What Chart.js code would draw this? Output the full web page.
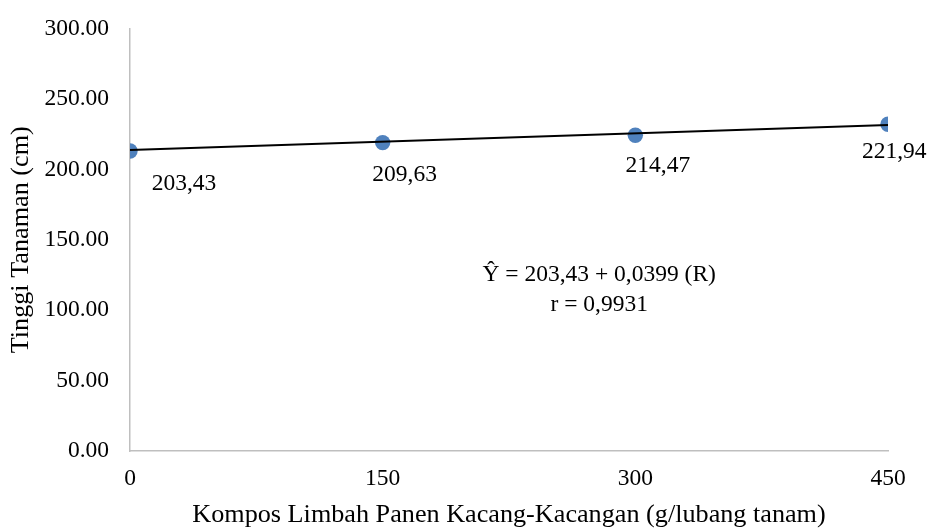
<!DOCTYPE html>
<html>
<head>
<meta charset="utf-8">
<script src="https://cdn.jsdelivr.net/npm/chart.js@4"></script>
<style>
  html, body { margin: 0; padding: 0; background: #ffffff; }
  #wrap { width: 931px; height: 528px; }
</style>
</head>
<body>
<div id="wrap"><canvas id="c" width="931" height="528"></canvas></div>
<script>
// ---- data ----
const doses = [0, 150, 300, 450];                       // Kompos (g/lubang tanam)
const heights = [213.0, 219.0, 224.2, 232.0];           // plotted heights (cm)
const pointLabels = ['203,43', '209,63', '214,47', '221,94'];
const trendX = [0, 450];
const trendY = [213.7, 231.4];                          // trendline end values
const yTicks = [0, 50, 100, 150, 200, 250, 300];
const xTicks = [0, 150, 300, 450];
const equationLines = ['\u0176 = 203,43 + 0,0399 (R)', 'r = 0,9931'];
const yTitle = 'Tinggi Tanaman (cm)';
const xTitle = 'Kompos Limbah Panen Kacang-Kacangan (g/lubang tanam)';

const FONT = '"Liberation Serif", "Times New Roman", serif';

const textPlugin = {
  id: 'textPlugin',
  afterDatasetsDraw(chart, args, opts) {
    const ctx = chart.ctx;
    const meta = chart.getDatasetMeta(1);
    ctx.save();
    ctx.fillStyle = '#000';
    ctx.font = '23.5px ' + FONT;
    ctx.textAlign = 'center';
    ctx.textBaseline = 'alphabetic';
    meta.data.forEach((pt, i) => {
      const o = opts.offsets[i];
      ctx.fillText(pointLabels[i], pt.x + o[0], pt.y + o[1]);
    });
    const ca = chart.chartArea;
    const ex = ca.left + (ca.right - ca.left) * opts.eqX;
    ctx.textBaseline = 'middle';
    equationLines.forEach((t, i) => {
      const ey = ca.top + (ca.bottom - ca.top) * opts.eqY[i];
      ctx.fillText(t, ex, ey);
    });
    ctx.restore();
  }
};

const tickFont = { family: FONT, size: 23.5 };
const titleFont = { family: FONT, size: 26.2, lineHeight: 1 };

new Chart(document.getElementById('c'), {
  type: 'scatter',
  data: {
    datasets: [
      {
        type: 'line',
        label: 'trend',
        data: trendX.map((x, i) => ({ x: x, y: trendY[i] })),
        borderColor: '#000000',
        borderWidth: 2,
        pointRadius: 0,
        fill: false,
        tension: 0
      },
      {
        label: 'Tinggi',
        data: doses.map((x, i) => ({ x: x, y: heights[i] })),
        backgroundColor: '#4F81BD',
        borderColor: '#4F81BD',
        borderWidth: 0,
        pointRadius: 7.7,
        showLine: false
      }
    ]
  },
  options: {
    responsive: false,
    animation: false,
    events: [],
    layout: { padding: { top: 28.5, right: 43, bottom: 0, left: 0 } },
    plugins: {
      legend: { display: false },
      tooltip: { enabled: false },
      textPlugin: {
        offsets: [[54, 39], [22, 38], [22.5, 36.4], [6.2, 34]],
        eqX: 0.619,
        eqY: [0.583, 0.654]
      }
    },
    scales: {
      x: {
        type: 'linear',
        min: 0,
        max: 450,
        afterBuildTicks: (s) => { s.ticks = xTicks.map(v => ({ value: v })); },
        afterFit: (s) => { s.height = 77; },
        grid: { display: false, drawTicks: false },
        border: { display: true, color: '#bfbfbf', width: 1.5 },
        ticks: { color: '#000', font: tickFont, padding: 14, maxRotation: 0,
                 callback: (v) => String(v) },
        title: { display: true, text: xTitle, color: '#000', font: titleFont,
                 align: 'center', padding: { top: 0, bottom: 0 } }
      },
      y: {
        type: 'linear',
        min: 0,
        max: 300,
        afterBuildTicks: (s) => { s.ticks = yTicks.map(v => ({ value: v })); },
        afterFit: (s) => { s.width = 130; s.paddingTop = 0; s.paddingBottom = 0; },
        grid: { display: false, drawTicks: false },
        border: { display: true, color: '#bfbfbf', width: 1.5 },
        ticks: { color: '#000', font: tickFont, padding: 21,
                 callback: (v) => Number(v).toFixed(2) },
        title: { display: true, text: yTitle, color: '#000', font: titleFont,
                 padding: { top: 8, bottom: 0 } }
      }
    }
  },
  plugins: [textPlugin]
});
</script>
</body>
</html>
